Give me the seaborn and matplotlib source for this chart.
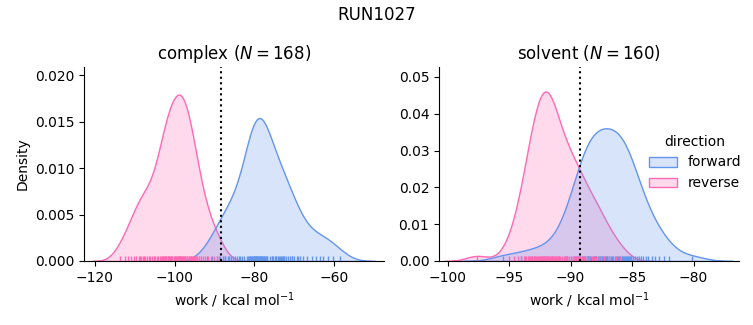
import numpy as np
import pandas as pd
import matplotlib
matplotlib.use("Agg")
import matplotlib.pyplot as plt
import seaborn as sns

# ---- data (work values, kcal/mol) ----
complex_forward = [
    -92.0, -90.6, -89.5, -88.7, -88.0, -87.3, -86.6, -86.0, -85.4, -84.9,
    -84.4, -83.9, -83.5, -83.1, -82.7, -79.65, -81.9, -81.6, -81.3, -81.0,
    -80.7, -80.4, -80.1, -79.8, -79.5, -79.2, -78.9, -78.6, -78.3, -78.0,
    -77.7, -77.4, -77.1, -76.8, -79.05,
    -76.1, -75.7, -75.3, -74.9, -74.5, -74.1, -73.7, -73.3, -72.9, -72.5,
    -72.1, -71.7, -71.2, -70.7, -70.1,
    -69.4, -68.6, -67.7, -66.7, -65.6, -64.5, -63.6, -62.7, -61.6, -60.3,
    -58.5,
    -87.5, -86.3, -81.1, -80.8, -80.5, -80.2, -79.9, -79.6, -79.3, -79.0,
    -78.7, -78.4, -78.1, -77.8, -77.5, -72.7, -70.5, -69.0, -76.9, -75.5,
    -74.7, -73.9, -73.1,
]
complex_reverse = [
    -113.8, -112.5, -111.6, -110.9, -110.2, -109.6, -109.0, -108.5, -108.0, -107.5,
    -107.0, -106.5, -106.1, -105.7, -105.3, -104.9,
    -104.5, -104.1, -103.7, -103.3, -103.0, -102.7, -102.4, -102.1, -101.8, -101.6,
    -101.4, -101.2, -101.0, -100.8, -98.8, -98.6, -100.2, -100.0, -99.8, -99.6,
    -99.5, -99.3, -99.1, -98.9, -98.7, -98.5, -98.3, -98.1, -97.9, -97.7,
    -97.5, -97.3, -97.0, -96.8, -96.5, -96.2, -95.9, -95.6, -95.2, -94.8,
    -94.4, -94.0, -93.5, -93.0, -92.4, -91.7, -91.0, -90.2, -89.4, -88.8,
    -102.9, -102.2, -101.7, -101.1, -100.7, -103.5, -102.5, -107.8, -108.8, -99.0,
    -96.3, -95.4, -94.6, -93.8, -97.8, -97.4, -96.9, -96.0,
]
solvent_forward = [
    -95.5, -94.0, -93.0, -92.2, -91.5, -90.9, -90.4,
    -90.0, -89.7, -89.5, -89.3, -89.1, -88.95, -88.8, -88.65, -88.5, -88.35,
    -88.2, -88.05, -87.9, -87.75, -87.6, -87.45, -87.3, -87.15, -87.0, -86.85,
    -86.7, -86.55, -86.4, -86.25, -86.1, -85.95, -85.8, -85.65, -85.5, -85.35,
    -85.2, -85.05, -84.9, -84.75, -84.6, -84.45, -84.3, -84.1, -83.9, -83.7,
    -83.4, -83.1, -82.8, -82.4, -82.0, -80.1,
    -89.2, -88.9, -88.7, -88.55, -88.4, -88.1, -87.95, -87.7, -87.5, -87.35,
    -87.2, -87.05, -86.9, -86.6, -86.3, -86.0, -85.7, -85.55, -85.4, -85.25,
    -85.1, -88.6, -90.3, -89.6, -89.4, -86.15, -85.85,
]
solvent_reverse = [
    -97.6,
    -95.0, -94.6, -94.3, -94.0, -93.8, -93.6, -93.4, -93.25, -93.1,
    -92.95, -92.8, -92.65, -92.5, -92.4, -92.3, -92.2, -92.1, -92.0, -91.9,
    -91.8, -91.7, -91.6, -91.5, -91.4, -91.3, -91.2, -91.1, -91.0,
    -90.85, -90.7, -90.55, -90.4, -90.25, -90.1, -89.95, -89.8, -89.65, -89.5,
    -89.35, -89.2, -89.05, -88.9, -88.7, -88.5, -88.25, -88.0,
    -87.7, -87.3, -86.9, -86.3, -86.0,
    -93.7, -93.5, -93.3, -93.15, -93.0, -92.9, -92.7, -92.55, -92.35, -92.15,
    -91.95, -91.75, -91.55, -91.35, -91.15, -90.95, -92.05, -91.85, -90.45, -90.3,
    -88.1, -87.9, -87.5, -89.7, -89.55, -89.4, -92.45, -92.25,
]
phases = ["complex", "solvent"]
directions = ["forward", "reverse"]
estimates = [-88.5, -89.2]   # dotted reference lines
colors = ["cornflowerblue", "hotpink"]

rows = []
for ph, fw, rv in [("complex", complex_forward, complex_reverse),
                   ("solvent", solvent_forward, solvent_reverse)]:
    rows += [(ph, "forward", v) for v in fw]
    rows += [(ph, "reverse", v) for v in rv]
df = pd.DataFrame(rows, columns=["phase", "direction", "work"])

g = sns.displot(
    data=df, x="work", col="phase", hue="direction", kind="kde",
    fill=True, rug=True, common_norm=True, col_order=phases,
    hue_order=directions, palette=colors,
    facet_kws=dict(sharex=False, sharey=False),
)

fig = g.figure
fig.set_size_inches(7.53, 3.25)
fig.set_dpi(100)
fig.subplots_adjust(left=84 / 753, right=739 / 753, bottom=1 - 261 / 325,
                    top=1 - 67 / 325, wspace=55 / 300)

xlims = [(-122.75, -47.5), (-100.7, -76.3)]
ylims = [(0, 0.0209), (0, 0.0527)]
for ax, ph, est, xl, yl in zip(g.axes.flat, phases, estimates, xlims, ylims):
    n = (df["phase"] == ph).sum()
    ax.set_title(f"{ph} ($N={n}$)", fontsize=12)
    ax.axvline(est, color="black", linestyle=":", linewidth=1.5)
    ax.set_xlim(*xl)
    ax.set_ylim(*yl)
    ax.set_xlabel("work / kcal mol$^{-1}$")
g.axes.flat[0].set_ylabel("Density")
g.axes.flat[1].set_ylabel("")

sns.move_legend(g, "center left", bbox_to_anchor=(0.845, 0.50), frameon=False)
fig.suptitle("RUN1027", fontsize=12)
fig.savefig("out.png", dpi=100)
